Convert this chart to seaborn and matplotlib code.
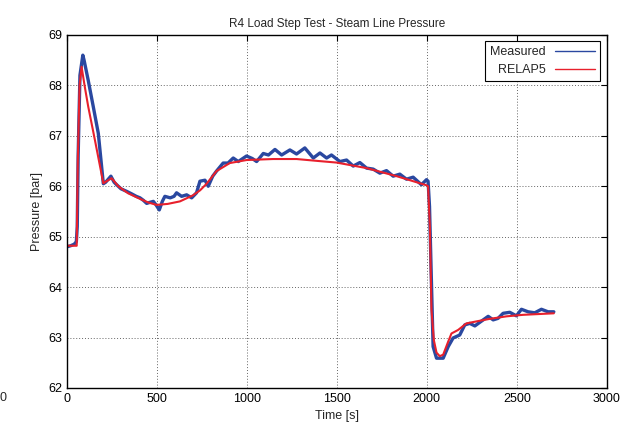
import pandas as pd
import seaborn as sns
import matplotlib.pyplot as plt

# measured steam line pressure
meas_t = [0, 20, 40, 52, 57, 62, 72, 88, 95, 118, 146, 174, 202, 215, 244, 262, 276, 300,
          331, 359, 385, 406, 425, 443, 460, 480, 495, 513, 530, 544, 574, 595, 609, 637,
          665, 693, 720, 739, 767, 785, 810, 831, 868, 895, 924, 952, 998, 1030, 1054,
          1091, 1120, 1156, 1193, 1239, 1276, 1322, 1369, 1406, 1443, 1470, 1517, 1554,
          1591, 1628, 1665, 1702, 1739, 1776, 1813, 1850, 1887, 1924, 1970, 1998, 2007,
          2015, 2025, 2035, 2054, 2091, 2119, 2146, 2183, 2211, 2239, 2267, 2294, 2341,
          2369, 2396, 2424, 2461, 2498, 2526, 2563, 2600, 2637, 2674, 2706]
meas_p = [64.80, 64.82, 64.85, 64.90, 65.2, 66.6, 68.2, 68.6, 68.5, 68.1, 67.58, 67.05,
          66.05, 66.08, 66.2, 66.08, 66.03, 65.95, 65.9, 65.85, 65.8, 65.77, 65.72, 65.66,
          65.68, 65.7, 65.63, 65.53, 65.7, 65.8, 65.77, 65.8, 65.87, 65.8, 65.83, 65.77,
          65.87, 66.1, 66.12, 66.0, 66.2, 66.3, 66.46, 66.46, 66.56, 66.49, 66.6, 66.55,
          66.49, 66.65, 66.62, 66.73, 66.62, 66.72, 66.64, 66.76, 66.56, 66.66, 66.56,
          66.62, 66.49, 66.52, 66.4, 66.47, 66.36, 66.34, 66.26, 66.31, 66.2, 66.24,
          66.14, 66.18, 66.03, 66.13, 66.1, 65.6, 64.2, 62.82, 62.59, 62.59, 62.82,
          62.99, 63.05, 63.25, 63.28, 63.23, 63.3, 63.42, 63.35, 63.38, 63.48, 63.5,
          63.43, 63.56, 63.51, 63.49, 63.56, 63.51, 63.51]

# RELAP5 simulation
sim_t = [0, 54, 60, 70, 81, 100, 118, 155, 202, 248, 285, 340, 406, 450, 498, 560, 628,
         700, 740, 776, 831, 905, 998, 1146, 1276, 1400, 1498, 1665, 1832, 1998, 2007,
         2017, 2026, 2039, 2054, 2072, 2091, 2119, 2137, 2174, 2220, 2276, 2350, 2443,
         2535, 2706]
sim_p = [64.82, 64.82, 66.5, 68.0, 68.37, 67.95, 67.58, 66.92, 66.06, 66.16, 66.0, 65.86,
         65.75, 65.68, 65.63, 65.65, 65.7, 65.82, 65.92, 66.05, 66.3, 66.46, 66.52, 66.54,
         66.54, 66.5, 66.47, 66.36, 66.2, 66.02, 66.0, 65.2, 63.55, 62.95, 62.7, 62.63,
         62.66, 62.92, 63.08, 63.15, 63.28, 63.32, 63.37, 63.42, 63.45, 63.48]

df = pd.concat([
    pd.DataFrame({'Time': meas_t, 'Pressure': meas_p, 'src': 'Measured'}),
    pd.DataFrame({'Time': sim_t, 'Pressure': sim_p, 'src': 'RELAP5'}),
])

sns.set_style('white')
plt.rcParams['font.family'] = ['Liberation Sans', 'DejaVu Sans']

fig = plt.figure(figsize=(6.32, 4.32), dpi=100)
ax = fig.add_axes([0.106, 0.102, 0.854, 0.817])

sns.lineplot(data=df[df.src == 'Measured'], x='Time', y='Pressure', color='#2a48a0',
             lw=2.4, label='Measured', ax=ax, sort=False)
sns.lineplot(data=df[df.src == 'RELAP5'], x='Time', y='Pressure', color='#e8202c',
             lw=1.5, label='RELAP5', ax=ax, sort=False)

ax.set_xlim(0, 3000)
ax.set_ylim(62, 69)
ax.set_xticks(range(0, 3001, 500))
ax.set_yticks(range(62, 70))
ax.grid(True, color='#666666', linestyle=(0, (1, 2)), linewidth=0.7)
ax.tick_params(direction='in', top=True, right=True, length=4, labelsize=9, colors='black')
for s in ax.spines.values():
    s.set_color('black')
    s.set_linewidth(1.0)

ax.set_title('R4 Load Step Test - Steam Line Pressure', fontsize=8.5, pad=6)
ax.set_xlabel('Time [s]', fontsize=9)
ax.set_ylabel('Pressure [bar]', fontsize=9)

leg = ax.legend(loc='upper right', markerfirst=False, fancybox=False, fontsize=9,
                edgecolor='black', framealpha=1, handlelength=3.2)
leg.get_frame().set_linewidth(0.8)
for h in leg.get_lines():
    h.set_linewidth(1.0)

fig.text(0.0, 1 - 398 / 432, '0', ha='left', va='center', fontsize=9)

fig.savefig('out.png', dpi=100)
